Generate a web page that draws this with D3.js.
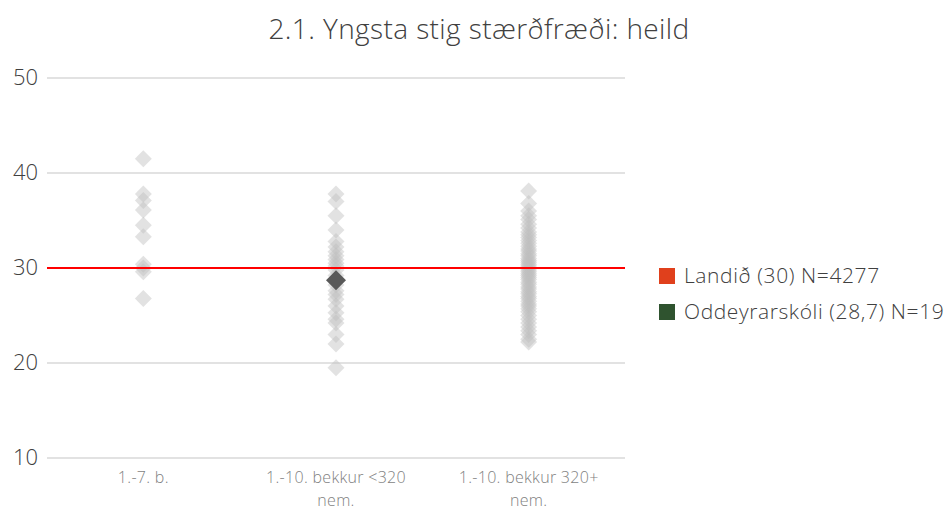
<!DOCTYPE html>
<html>
<head>
<meta charset="utf-8">
<script src="https://cdn.jsdelivr.net/npm/d3@7"></script>
<style>
  body { margin: 0; background: #fff; }
  text { font-family: "Open Sans", Lato, sans-serif; font-weight: 300; }
</style>
</head>
<body>
<div id="chart"></div>
<script>
// data
var categories = ["1.-7. b.", "1.-10. bekkur <320 nem.", "1.-10. bekkur 320+ nem."];
var catLines = [["1.-7. b."], ["1.-10. bekkur <320", "nem."], ["1.-10. bekkur 320+", "nem."]];

var small = [41.5, 37.8, 37.1, 36.1, 34.5, 33.3, 30.4, 30.0, 29.6, 26.8];
var mid = [37.8, 37.0, 35.5, 34.0, 32.8, 32.2, 31.7, 31.3, 30.9, 30.5, 30.2, 29.8,
           29.2, 28.2, 27.6, 27.2, 26.7, 26.0, 25.3, 24.6, 24.2, 23.0, 22.0, 19.5];
var large = [38.1, 36.8, 36.0, 35.5, 35.1, 34.6, 34.2, 33.8, 33.5, 33.2, 32.9, 32.6,
             32.3, 32.0, 31.8, 31.5, 31.3, 31.0, 30.8, 30.6, 30.4, 30.2, 30.0, 29.8,
             29.6, 29.4, 29.2, 29.0, 28.8, 28.5, 28.3, 28.0, 27.8, 27.5, 27.3, 27.0,
             26.8, 26.5, 26.2, 26.0, 25.7, 25.4, 25.0, 24.6, 24.2, 23.8, 23.4, 23.0,
             22.5, 22.2];
var school = {name: "Oddeyrarskóli (28,7) N=19", category: "1.-10. bekkur <320 nem.", value: 28.7};
var national = {name: "Landið (30) N=4277", value: 30};
var yTicks = [10, 20, 30, 40, 50];

var width = 947, height = 511;

var svg = d3.select("#chart")
  .append("svg")
    .attr("width", width)
    .attr("height", height);

var x = d3.scaleBand()
  .domain(categories)
  .range([47, 625]);

var y = d3.scaleLinear()
  .domain([10, 50])
  .range([458, 78]);

// title
svg.append("text")
  .attr("x", 479)
  .attr("y", 39)
  .attr("text-anchor", "middle")
  .style("font-size", "28px")
  .style("letter-spacing", "0.4px")
  .style("fill", "#404040")
  .text("2.1. Yngsta stig stærðfræði: heild");

// gridlines
svg.selectAll(".grid")
  .data(yTicks.filter(function(d) { return d != national.value; }))
  .enter()
  .append("line")
    .attr("x1", 47)
    .attr("x2", 625)
    .attr("y1", function(d) { return y(d); })
    .attr("y2", function(d) { return y(d); })
    .attr("stroke", "#d9d9d9")
    .attr("stroke-width", 1.5);

// y tick labels
svg.selectAll(".ytick")
  .data(yTicks)
  .enter()
  .append("text")
    .attr("x", 38)
    .attr("y", function(d) { return y(d); })
    .attr("dy", "0.3em")
    .attr("text-anchor", "end")
    .style("font-size", "22px")
    .style("fill", "#404040")
    .text(function(d) { return d; });

// category labels
var catG = svg.selectAll(".cat")
  .data(categories)
  .enter()
  .append("text")
    .attr("text-anchor", "middle")
    .style("font-size", "16px")
    .style("letter-spacing", "0.3px")
    .style("fill", "#7f7f7f");
catG.each(function(d, i) {
  d3.select(this).selectAll("tspan")
    .data(catLines[i])
    .enter()
    .append("tspan")
      .attr("x", x(d) + x.bandwidth() / 2)
      .attr("y", function(t, j) { return 483 + j * 23; })
      .text(function(t) { return t; });
});

// grey diamonds for all schools
var points = [];
[small, mid, large].forEach(function(arr, i) {
  arr.forEach(function(v) { points.push({category: categories[i], value: v}); });
});

var diamond = d3.symbol().type(d3.symbolSquare).size(144);
svg.selectAll(".pt")
  .data(points)
  .enter()
  .append("path")
    .attr("d", diamond)
    .attr("transform", function(d) {
      return "translate(" + (x(d.category) + x.bandwidth() / 2) + "," + y(d.value) + ") rotate(45)";
    })
    .style("fill", "#bfbfbf")
    .style("opacity", 0.45);

// national average line
svg.append("line")
  .attr("x1", 47)
  .attr("x2", 625)
  .attr("y1", y(national.value))
  .attr("y2", y(national.value))
  .attr("stroke", "#ff0000")
  .attr("stroke-width", 2);

// the school
svg.append("path")
  .attr("d", d3.symbol().type(d3.symbolSquare).size(200))
  .attr("transform", "translate(" + (x(school.category) + x.bandwidth() / 2) + "," + y(school.value) + ") rotate(45)")
  .style("fill", "#595959");

// legend
var legend = [
  {label: national.name, color: "#e0401c"},
  {label: school.name, color: "#2f532f"}
];
var lg = svg.selectAll(".legend")
  .data(legend)
  .enter()
  .append("g")
    .attr("transform", function(d, i) { return "translate(659," + (276 + i * 36) + ")"; });
lg.append("rect")
  .attr("x", 0)
  .attr("y", -8)
  .attr("width", 16)
  .attr("height", 16)
  .style("fill", function(d) { return d.color; });
lg.append("text")
  .attr("x", 25)
  .attr("dy", "0.35em")
  .style("font-size", "21px")
  .style("letter-spacing", "0.6px")
  .style("fill", "#404040")
  .text(function(d) { return d.label; });
</script>
</body>
</html>
